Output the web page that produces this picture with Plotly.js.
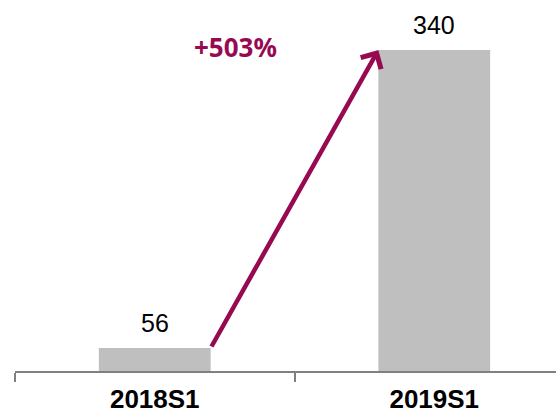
<!DOCTYPE html>
<html>
<head>
<meta charset="utf-8">
<script src="https://cdn.plot.ly/plotly-3.0.1.min.js"></script>
<style>
html,body{margin:0;padding:0;background:#fff;overflow:hidden;width:556px;height:413px;}
#chart{width:574px;height:413px;}
</style>
</head>
<body>
<div id="chart"></div>
<script>
const categories = ["2018S1", "2019S1"];
const values = [56, 340];
const valueLabels = ["56", "340"];
const growthLabel = "+503%";

const barWidth = 0.4;
const accent = "#970A52";

const annotations = values.map((v, i) => ({
  x: categories[i], y: v, xref: "x", yref: "y",
  text: valueLabels[i], showarrow: false,
  yanchor: "bottom", yshift: 9,
  font: {family: "Liberation Sans, Arial, sans-serif", size: 25, color: "#000"}
}));

// growth arrow from top-right of first bar to top-left of second bar
annotations.push({
  x: 1 - barWidth / 2, y: values[1],
  ax: 0 + barWidth / 2, ay: values[0],
  xref: "x", yref: "y", axref: "x", ayref: "y",
  showarrow: true, arrowhead: 4, arrowsize: 1.0, arrowwidth: 4.5,
  arrowcolor: accent, text: "", standoff: 0, startstandoff: 0
});

annotations.push({
  x: 0.29, y: 343, xref: "x", yref: "y",
  text: "<b>" + growthLabel + "</b>", showarrow: false,
  xanchor: "center", yanchor: "middle",
  font: {family: "Noto Sans, sans-serif", size: 26, color: accent}
});

const barTrace = {
  type: "bar", x: categories, y: values, width: barWidth,
  marker: {color: "#BFBFBF"}, hoverinfo: "none"
};

// the plot runs slightly past the right edge of the window, as in the reference
const layout = {
  width: 574, height: 413,
  margin: {l: 15, r: 0, t: 0, b: 42, pad: 0},
  paper_bgcolor: "#fff", plot_bgcolor: "#fff",
  showlegend: false,
  xaxis: {
    type: "category",
    range: [-0.5, 1.5],
    tickson: "boundaries",
    ticks: "outside", ticklen: 9, tickwidth: 2, tickcolor: "#808080",
    ticklabelstandoff: 4,
    showline: true, linecolor: "#808080", linewidth: 2,
    showgrid: false, zeroline: false,
    tickfont: {family: "Liberation Sans, Arial, sans-serif", size: 26, color: "#000", weight: "bold"},
    fixedrange: true
  },
  yaxis: {visible: false, range: [34.08, 387.7], showgrid: false, zeroline: false, fixedrange: true},
  annotations: annotations
};

Plotly.newPlot("chart", [barTrace], layout, {displayModeBar: false, staticPlot: true});
</script>
</body>
</html>
